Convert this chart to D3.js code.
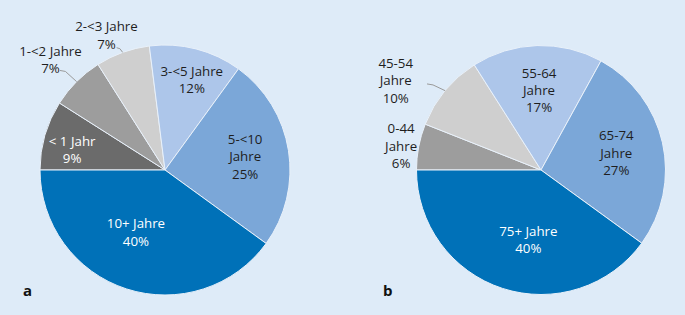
<!DOCTYPE html>
<html>
<head>
<meta charset="utf-8">
<script src="https://cdn.jsdelivr.net/npm/d3@7"></script>
<style>
  html, body { margin: 0; padding: 0; background: #deebf8; }
  svg { display: block; }
  text { font-family: "Open Sans", "Noto Sans", sans-serif; }
</style>
</head>
<body>
<div id="chart"></div>
<script>
// Panel a: years since diagnosis
const tenureLabels = ["< 1 Jahr", "1-<2 Jahre", "2-<3 Jahre", "3-<5 Jahre", "5-<10\nJahre", "10+ Jahre"];
const tenureValues = [9, 7, 7, 12, 25, 40];
const tenureColors = ["#6b6b6b", "#9d9d9d", "#cfcfcf", "#adc6ea", "#7ba7d8", "#0071b8"];

// Panel b: age groups
const ageLabels = ["0-44\nJahre", "45-54\nJahre", "55-64\nJahre", "65-74\nJahre", "75+ Jahre"];
const ageValues = [6, 10, 17, 27, 40];
const ageColors = ["#9d9d9d", "#cfcfcf", "#adc6ea", "#7ba7d8", "#0071b8"];

const width = 685, height = 315;
const lineH = 17.3;

const svg = d3.select("#chart")
  .append("svg")
  .attr("width", width)
  .attr("height", height);

svg.append("rect")
  .attr("width", width)
  .attr("height", height)
  .attr("fill", "#deebf8");

// label placement: radius fraction k, angle nudge in degrees, optional leader
const panels = [
  {
    letter: "a", cx: 165, cy: 170, r: 125, lx: 23, ly: 291,
    labels: tenureLabels, values: tenureValues, colors: tenureColors,
    place: [
      { k: 0.76, da: -4, fill: "#fff" },
      { k: 1.27, da: -1.2, leader: [9.3, 10.3, 5.7] },
      { k: 1.175, da: -3.7, leader: [10.2, 12.4, 3.3] },
      { k: 0.75, da: 2.2 },
      { k: 0.65, da: -0.5 },
      { k: 0.55, da: 7, fill: "#fff" }
    ]
  },
  {
    letter: "b", cx: 541, cy: 170, r: 124.5, lx: 383, ly: 291,
    labels: ageLabels, values: ageValues, colors: ageColors,
    place: [
      { k: 1.14, da: -1.1 },
      { k: 1.37, da: -8, leader: [31.3, 3.3, 6] },
      { k: 0.64, da: 0.4 },
      { k: 0.62, da: -0.1 },
      { k: 0.57, da: -7.7, fill: "#fff" }
    ]
  }
];

const pie = d3.pie()
  .sort(null)
  .value(d => d)
  .startAngle(-Math.PI / 2)
  .endAngle(3 * Math.PI / 2);

panels.forEach(p => {
  const g = svg.append("g")
    .attr("transform", `translate(${p.cx},${p.cy})`);

  const arc = d3.arc().innerRadius(0).outerRadius(p.r);
  const arcs = pie(p.values);

  g.selectAll("path.slice")
    .data(arcs)
    .join("path")
    .attr("class", "slice")
    .attr("d", arc)
    .attr("fill", (d, i) => p.colors[i])
    .attr("stroke", "#e9f1fa")
    .attr("stroke-width", 1);

  arcs.forEach((d, i) => {
    const pl = p.place[i];
    const mid = (d.startAngle + d.endAngle) / 2;
    const a = mid + pl.da * Math.PI / 180;
    const x = Math.sin(a) * p.r * pl.k;
    const y = -Math.cos(a) * p.r * pl.k;
    const lines = p.labels[i].split("\n").concat([p.values[i] + "%"]);

    const t = g.append("text")
      .attr("text-anchor", "middle")
      .attr("font-size", 13.3)
      .attr("fill", pl.fill || "#1e1e1e");
    lines.forEach((ln, j) => {
      t.append("tspan")
        .attr("x", x)
        .attr("y", y + (j - (lines.length - 1) / 2) * lineH)
        .attr("dy", "0.35em")
        .text(ln);
    });

    if (pl.leader) {
      const sx = x + pl.leader[0], sy = y + pl.leader[1];
      const ex = Math.sin(mid) * p.r, ey = -Math.cos(mid) * p.r;
      g.append("path")
        .attr("d", d3.line()([[sx, sy], [sx + pl.leader[2], sy + 1], [ex, ey]]))
        .attr("fill", "none")
        .attr("stroke", "#9a9a9a")
        .attr("stroke-width", 1);
    }
  });

  svg.append("text")
    .attr("x", p.lx)
    .attr("y", p.ly)
    .attr("dy", "0.35em")
    .attr("font-size", 15)
    .attr("font-weight", "bold")
    .attr("fill", "#111")
    .text(p.letter);
});
</script>
</body>
</html>
